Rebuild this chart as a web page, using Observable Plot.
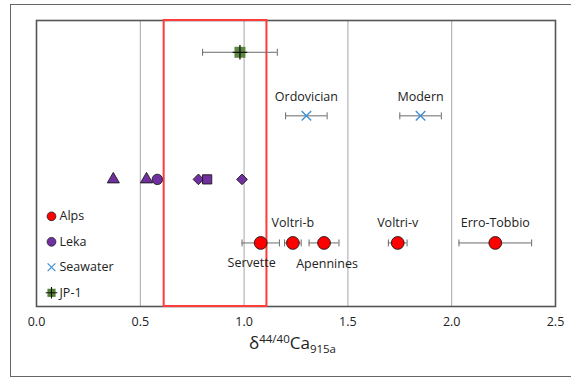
<!DOCTYPE html>
<html>
<head>
<meta charset="utf-8">
<script src="https://cdn.jsdelivr.net/npm/d3@7"></script>
<script src="https://cdn.jsdelivr.net/npm/@observablehq/plot@0.6"></script>
<style>
  html, body { margin: 0; padding: 0; background: #fff; }
  #wrap { position: relative; width: 571px; height: 379px; overflow: hidden; font-family: "Open Sans", sans-serif; color: #222; }
  #outer { position: absolute; left: 10px; top: 4px; width: 600px; height: 373px; border: 1px solid #666; border-right: none; box-sizing: border-box; }
  #xlabel { position: absolute; left: 0; width: 571px; top: 331px; text-align: center; font-size: 17px; padding-left: 14px; box-sizing: border-box; }
  #xlabel sup, #xlabel sub { font-size: 11.5px; }
  #xlabel sup { vertical-align: 6px; }
  #xlabel sub { vertical-align: -4px; }
</style>
</head>
<body>
<div id="wrap"><div id="outer"></div><div id="chart"></div><div id="xlabel">δ<sup>44/40</sup>Ca<sub>915a</sub></div></div>
<script>
// Row positions (categorical rows on a numeric y)
const rowNames = ["Alps", "Leka", "Seawater", "JP-1"];
const rowY = [1, 2, 3, 4];

// Alps samples
const alpsNames = ["Servette", "Voltri-b", "Apennines", "Voltri-v", "Erro-Tobbio"];
const alpsValues = [1.08, 1.235, 1.385, 1.74, 2.21];
const alpsErrors = [0.09, 0.04, 0.072, 0.045, 0.175];
const alpsLabelSide = ["below", "above", "below", "above", "above"];

// Leka samples
const lekaValues = [0.37, 0.53, 0.582, 0.78, 0.822, 0.99];
const lekaShapes = ["triangle", "triangle", "circle", "diamond2", "square", "diamond2"];

// Seawater
const seaNames = ["Ordovician", "Modern"];
const seaValues = [1.30, 1.85];
const seaErrors = [0.10, 0.10];

// JP-1 standard
const jpValues = [0.98];
const jpErrors = [0.18];

// Highlighted range
const boxRange = [0.615, 1.11];

// Axis ticks
const xTicks = [0, 0.5, 1.0, 1.5, 2.0, 2.5];
const gridTicks = [0.5, 1.0, 1.5, 2.0];

const alps = alpsNames.map((n, i) => ({name: n, x: alpsValues[i], e: alpsErrors[i], side: alpsLabelSide[i], y: rowY[0]}));
const leka = lekaValues.map((v, i) => ({x: v, shape: lekaShapes[i], y: rowY[1]}));
const sea = seaNames.map((n, i) => ({name: n, x: seaValues[i], e: seaErrors[i], y: rowY[2]}));
const jp = jpValues.map((v, i) => ({x: v, e: jpErrors[i], y: rowY[3]}));
const withErr = [...alps, ...sea, ...jp];

const capSymbol = {
  draw(ctx, size) {
    const h = Math.sqrt(size / Math.PI);
    ctx.moveTo(0, -h);
    ctx.lineTo(0, h);
  }
};

const errColor = "#6b6b6b";
const purple = "#7030a0";
const legendColors = {Alps: "#ff0000", Leka: purple, Seawater: "#3d8fd6", "JP-1": "#548235"};
const shapeR = {triangle: 4.5, circle: 5.2, diamond2: 4.8, square: 5.2};

const legendMarks = [];
const legendStep = 25.5;
rowNames.forEach((name, i) => {
  const dy = -(13.7 + legendStep * (3 - i));
  const base = {frameAnchor: "bottom-left", dx: 15, dy};
  if (name === "Alps" || name === "Leka") {
    legendMarks.push(Plot.dot([name], {...base, r: 4.4, fill: legendColors[name], stroke: "#222", strokeWidth: 0.8}));
  } else if (name === "Seawater") {
    legendMarks.push(Plot.dot([name], {...base, r: 3.6, symbol: "times", stroke: legendColors[name], strokeWidth: 1.2}));
  } else {
    legendMarks.push(Plot.dot([name], {...base, r: 4.6, symbol: "square", fill: legendColors[name]}));
    legendMarks.push(Plot.dot([name], {...base, r: 3.8, symbol: "plus", stroke: "#111", strokeWidth: 1.1}));
  }
  legendMarks.push(Plot.text([name], {frameAnchor: "bottom-left", dx: 23, dy, text: d => d, textAnchor: "start", lineAnchor: "middle", fontSize: 12.5, fill: "#222"}));
});

const chart = Plot.plot({
  width: 571,
  height: 379,
  marginLeft: 36,
  marginRight: 16,
  marginTop: 20,
  marginBottom: 73,
  style: {fontFamily: "Open Sans, sans-serif", background: "transparent"},
  x: {domain: [0, 2.5], ticks: xTicks, tickFormat: d3.format(".1f"), tickSize: 0, tickPadding: 11, label: null},
  y: {domain: [0, 4.5], axis: null},
  marks: [
    Plot.ruleX(gridTicks, {stroke: "#a6a6a6", strokeWidth: 1}),
    Plot.frame({stroke: "#555", strokeWidth: 1.6}),
    Plot.rect([boxRange], {x1: d => d[0], x2: d => d[1], fill: "none", stroke: "#ff3b3b", strokeWidth: 2}),
    // error bars
    Plot.ruleY(withErr, {y: "y", x1: d => d.x - d.e, x2: d => d.x + d.e, stroke: errColor, strokeWidth: 1}),
    Plot.dot(withErr, {y: "y", x: d => d.x - d.e, symbol: capSymbol, r: 3.5, stroke: errColor, strokeWidth: 1}),
    Plot.dot(withErr, {y: "y", x: d => d.x + d.e, symbol: capSymbol, r: 3.5, stroke: errColor, strokeWidth: 1}),
    // JP-1
    Plot.dot(jp, {x: "x", y: "y", symbol: "square", r: 6.2, fill: "#548235", fillOpacity: 0.95}),
    Plot.dot(jp, {x: "x", y: "y", symbol: "plus", r: 4.8, stroke: "#111", strokeWidth: 1.3}),
    // Seawater
    Plot.dot(sea, {x: "x", y: "y", symbol: "times", r: 4.4, stroke: "#3d8fd6", strokeWidth: 1.4}),
    Plot.text(sea, {x: "x", y: "y", text: "name", dy: -19, fontSize: 12.5, fill: "#222"}),
    // Leka
    ...Object.keys(shapeR).map(s => Plot.dot(leka.filter(d => d.shape === s), {x: "x", y: "y", symbol: s, r: shapeR[s], fill: purple, stroke: "#1a1a1a", strokeWidth: 0.9})),
    // Alps
    Plot.dot(alps, {x: "x", y: "y", r: 6.4, fill: "#ff0000", stroke: "#1a1a1a", strokeWidth: 0.9}),
    Plot.text(alps.filter(d => d.side === "above"), {x: "x", y: "y", text: "name", dy: -20, fontSize: 12.5, fill: "#222"}),
    Plot.text(alps.filter(d => d.name === "Servette"), {x: "x", y: "y", text: "name", dy: 20, dx: -9, fontSize: 12.5, fill: "#222"}),
    Plot.text(alps.filter(d => d.name === "Apennines"), {x: "x", y: "y", text: "name", dy: 21, dx: 3, fontSize: 12.5, fill: "#222"}),
    ...legendMarks
  ]
});
d3.select(chart).selectAll('g[aria-label="x-axis tick label"]').attr("font-size", 12.5).attr("fill", "#222");
document.getElementById("chart").appendChild(chart);
</script>
</body>
</html>
